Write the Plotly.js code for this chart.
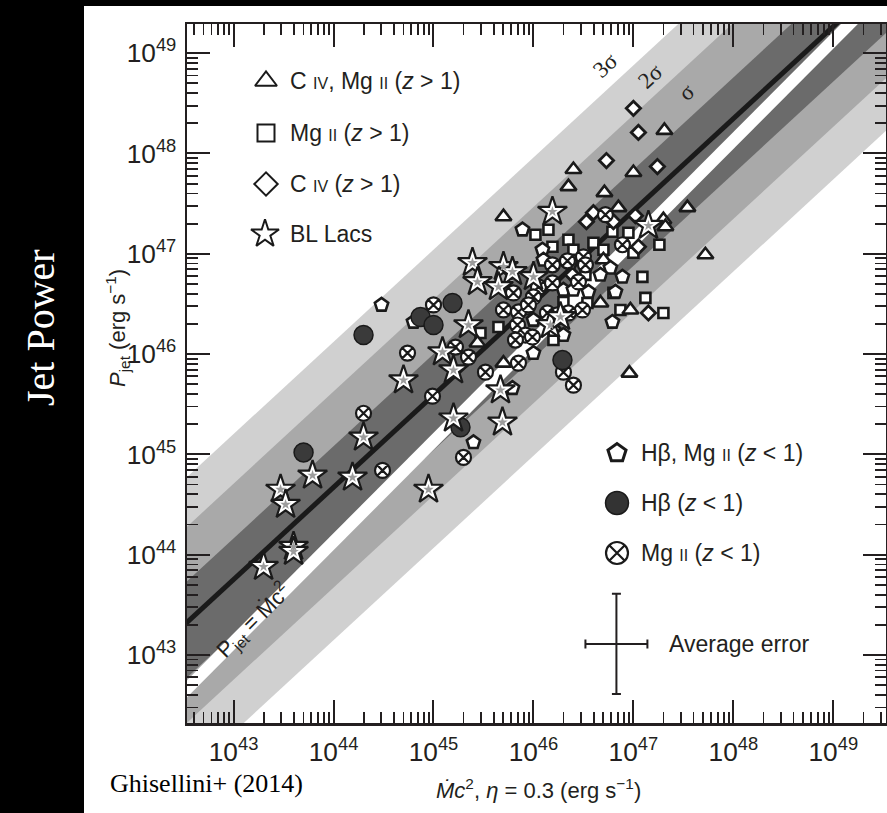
<!DOCTYPE html>
<html>
<head>
<meta charset="utf-8">
<script src="https://cdn.plot.ly/plotly-3.0.1.min.js"></script>
<style>
  html, body { margin: 0; padding: 0; background: #000; }
  #chart { width: 887px; height: 813px; }
</style>
</head>
<body>
<div id="chart"></div>
<script>
// ---- data: log10 of Mdot c^2 (x) and of P_jet (y), both in erg s^-1 ----

// C IV, Mg II (z > 1)
const triLogX = [47.31, 47.00, 46.71, 47.54, 47.72, 47.30, 47.32, 46.40, 46.35, 45.70, 46.85, 46.96, 46.97, 46.70, 45.70, 46.67, 45.44];
const triLogY = [48.23, 47.81, 47.61, 47.46, 46.99, 47.34, 47.27, 47.84, 47.67, 47.37, 47.46, 45.81, 46.44, 46.94, 45.91, 46.51, 46.11];

// Mg II (z > 1)
const sqLogX = [46.60, 47.26, 47.00, 47.09, 47.12, 47.30, 46.02, 46.15, 46.35, 46.79, 46.95, 46.19, 46.40, 46.70, 46.52, 46.30, 46.54, 46.87, 45.65, 45.47, 46.20, 46.80];
const sqLogY = [47.11, 47.09, 47.01, 46.77, 46.56, 46.41, 47.19, 47.24, 47.14, 47.22, 47.21, 47.07, 47.04, 47.04, 46.79, 46.52, 46.51, 46.44, 46.27, 46.21, 46.14, 46.61];

// C IV (z > 1)
const diaLogX = [47.00, 47.05, 46.73, 47.24, 46.60, 47.02, 46.80, 47.05, 46.39, 47.15, 46.53];
const diaLogY = [48.45, 48.21, 47.93, 47.87, 47.41, 47.38, 47.32, 47.07, 46.79, 46.41, 47.32];

// H-beta, Mg II (z < 1)
const pentLogX = [45.89, 46.09, 46.10, 46.37, 46.77, 46.89, 46.30, 46.40, 46.55, 46.82, 46.79, 46.00, 46.20, 46.30, 46.00, 45.79, 44.48, 44.80, 45.40, 46.67];
const pentLogY = [47.24, 47.04, 46.94, 46.91, 46.86, 46.77, 46.64, 46.64, 46.62, 46.62, 46.32, 46.34, 46.24, 46.19, 46.01, 45.66, 46.49, 46.32, 45.12, 46.79];

// Mg II (z < 1)
const cxLogX = [46.72, 46.89, 46.50, 46.19, 46.52, 46.05, 46.19, 46.45, 45.80, 46.00, 45.94, 46.49, 46.35, 45.70, 45.85, 46.14, 45.84, 45.92, 45.82, 45.99, 45.00, 44.74, 45.22, 45.35, 45.52, 45.85, 46.30, 46.40, 44.99, 44.30, 44.49, 45.30, 46.24, 45.95, 46.34];
const cxLogY = [47.39, 47.09, 46.97, 46.89, 46.89, 46.67, 46.71, 46.72, 46.61, 46.57, 46.47, 46.44, 46.41, 46.44, 46.42, 46.41, 46.29, 46.19, 46.14, 46.17, 46.49, 46.01, 46.07, 45.97, 45.82, 45.91, 45.82, 45.69, 45.58, 45.41, 44.84, 44.97, 46.39, 46.49, 46.93];

// H-beta (z < 1)
const dotLogX = [44.30, 44.87, 45.00, 45.19, 43.70, 45.27, 46.29];
const dotLogY = [46.19, 46.37, 46.29, 46.51, 45.02, 45.27, 45.94];

// BL Lacs
const blLogX = [46.19, 47.15, 45.39, 45.70, 45.79, 46.00, 45.44, 45.65, 46.17, 46.27, 45.35, 45.09, 45.20, 45.67, 44.70, 45.69, 45.20, 44.30, 43.79, 44.19, 43.47, 43.52, 44.95, 43.60, 43.60, 43.30];
const blLogY = [47.42, 47.28, 46.91, 46.87, 46.82, 46.77, 46.72, 46.67, 46.29, 46.37, 46.29, 46.02, 45.84, 45.64, 45.74, 45.32, 45.36, 45.17, 44.79, 44.77, 44.65, 44.50, 44.65, 44.08, 44.03, 43.88];

// best fit: log P = fitAt46 + fitSlope * (log Mc2 - 46)
const fitSlope = 0.919;
const fitAt46 = 46.51;
// sigma stripes (dex above / below the fit): 1, 2, 3 sigma
const bandUpper = [0.41, 0.955, 1.45];
const bandLower = [0.55, 1.00, 1.525];
// P_jet = Mdot c^2 stripe (dex offset)
const equalityOffset = 0.13;

// average error bar (log10 centre, half widths in dex)
const avgErrLog = [46.83, 43.11];
const avgErrDex = [0.31, 0.50];

// ---- helpers ----
const pow10 = a => a.map(v => Math.pow(10, v));
const fitLog = lx => fitAt46 + fitSlope * (lx - 46);
const lineSpan = [41, 51];

const SANS = 'Liberation Sans, Arial, Helvetica, sans-serif';
const SERIF = 'Liberation Serif, Times New Roman, serif';
const INK = '#231f20';

// plot area in page pixels
const L = 187, T = 24, W = 699, H = 699;
const px = v => (v - L) / W;
const py = v => (T + H - v) / H;

const traces = [];

// sigma stripes (1, 2, 3 sigma), widest drawn first
const bandColors = ['#6b6b6b', '#a9a9a9', '#d0d0d0'];
for (let k = 2; k >= 0; k--) {
  const xs = lineSpan;
  const up = xs.map(v => fitLog(v) + bandUpper[k]);
  const lo = xs.map(v => fitLog(v) - bandLower[k]);
  traces.push({
    type: 'scatter', mode: 'lines', fill: 'toself',
    x: pow10([xs[0], xs[1], xs[1], xs[0], xs[0]]),
    y: pow10([up[0], up[1], lo[1], lo[0], up[0]]),
    fillcolor: bandColors[k], line: { width: 0 }, hoverinfo: 'skip'
  });
}

// equality stripe
traces.push({
  type: 'scatter', mode: 'lines',
  x: pow10(lineSpan), y: pow10(lineSpan.map(v => v + equalityOffset)),
  line: { color: '#ffffff', width: 12 }
});

// best-fit line
traces.push({
  type: 'scatter', mode: 'lines',
  x: pow10(lineSpan), y: pow10(lineSpan.map(fitLog)),
  line: { color: '#1a1a1a', width: 5 }
});

const outline = w => ({ color: '#1a1a1a', width: w });

traces.push({ type: 'scatter', mode: 'markers', x: pow10(sqLogX), y: pow10(sqLogY),
  marker: { symbol: 'square', size: 10, color: '#ffffff', line: outline(2.6) } });
traces.push({ type: 'scatter', mode: 'markers', x: pow10(triLogX), y: pow10(triLogY),
  marker: { symbol: 'triangle-up', size: 14, color: '#ffffff', line: outline(2.6) } });
traces.push({ type: 'scatter', mode: 'markers', x: pow10(diaLogX), y: pow10(diaLogY),
  marker: { symbol: 'diamond', size: 11, color: '#ffffff', line: outline(2.8) } });
traces.push({ type: 'scatter', mode: 'markers', x: pow10(pentLogX), y: pow10(pentLogY),
  marker: { symbol: 'pentagon', size: 14, color: '#ffffff', line: outline(2.6) } });
traces.push({ type: 'scatter', mode: 'markers', x: pow10(cxLogX), y: pow10(cxLogY),
  marker: { symbol: 'circle-x', size: 15, color: '#ffffff', line: outline(2.2) } });
traces.push({ type: 'scatter', mode: 'markers', x: pow10(dotLogX), y: pow10(dotLogY),
  marker: { symbol: 'circle', size: 19, color: '#3a3a3a', line: outline(1.5) } });
traces.push({ type: 'scatter', mode: 'markers', x: pow10(blLogX), y: pow10(blLogY),
  marker: { symbol: 'star', size: 22, color: '#ffffff', line: outline(2.2) } });
traces.push({ type: 'scatter', mode: 'markers', x: pow10(blLogX), y: pow10(blLogY),
  marker: { symbol: 'star', size: 8, color: '#9c9c9c', line: { width: 0 } } });

// average error cross
const ex = Math.pow(10, avgErrLog[0]), ey = Math.pow(10, avgErrLog[1]);
traces.push({
  type: 'scatter', mode: 'markers', x: [ex], y: [ey],
  marker: { size: 1, color: 'rgba(0,0,0,0)' },
  error_x: { type: 'data', symmetric: false,
    array: [ex * (Math.pow(10, avgErrDex[0]) - 1)], arrayminus: [ex * (1 - Math.pow(10, -avgErrDex[0]))],
    color: INK, thickness: 2, width: 4.5 },
  error_y: { type: 'data', symmetric: false,
    array: [ey * (Math.pow(10, avgErrDex[1]) - 1)], arrayminus: [ey * (1 - Math.pow(10, -avgErrDex[1]))],
    color: INK, thickness: 2, width: 4.5 }
});

// key symbols, drawn on an overlay of the plot area (0..1 both ways)
const keyItems = [
  { sym: 'triangle-up', size: 19, fill: '#ffffff', lw: 2, x: 266, y: 81 },
  { sym: 'square', size: 17, fill: '#ffffff', lw: 2, x: 266, y: 133 },
  { sym: 'diamond', size: 18, fill: '#ffffff', lw: 2, x: 266, y: 184 },
  { sym: 'star', size: 21, fill: '#ffffff', lw: 2, x: 265, y: 234 },
  { sym: 'pentagon', size: 19, fill: '#ffffff', lw: 3, x: 617, y: 453 },
  { sym: 'circle', size: 23, fill: '#333333', lw: 1.5, x: 617, y: 503 },
  { sym: 'circle-x', size: 22, fill: '#ffffff', lw: 2.2, x: 617, y: 553 }
];
keyItems.forEach(k => traces.push({
  type: 'scatter', mode: 'markers', xaxis: 'x2', yaxis: 'y2', cliponaxis: false,
  x: [px(k.x)], y: [py(k.y)],
  marker: { symbol: k.sym, size: k.size, color: k.fill, line: { color: '#1a1a1a', width: k.lw } }
}));

const sc = t => '<span style="font-size:16px">' + t + '</span>';
const keyText = [
  { t: 'C ' + sc('IV') + ', Mg ' + sc('II') + ' (<i>z</i> > 1)', x: 288, y: 81 },
  { t: 'Mg ' + sc('II') + ' (<i>z</i> > 1)', x: 288, y: 133 },
  { t: 'C ' + sc('IV') + ' (<i>z</i> > 1)', x: 288, y: 184 },
  { t: 'BL Lacs', x: 288, y: 234 },
  { t: 'Hβ, Mg ' + sc('II') + ' (<i>z</i> < 1)', x: 639, y: 453 },
  { t: 'Hβ (<i>z</i> < 1)', x: 639, y: 503 },
  { t: 'Mg ' + sc('II') + ' (<i>z</i> < 1)', x: 639, y: 553 },
  { t: 'Average error', x: 667, y: 644 }
];

const annotations = keyText.map(k => ({
  xref: 'paper', yref: 'paper', x: px(k.x), y: py(k.y), xanchor: 'left', yanchor: 'middle',
  text: k.t, showarrow: false, font: { family: SANS, size: 23, color: INK }
}));

const label = (text, x, y, angle, font) => ({
  xref: 'paper', yref: 'paper', x: px(x), y: py(y), xanchor: 'center', yanchor: 'middle',
  text: text, textangle: angle, showarrow: false, font: font
});

annotations.push(
  label('3σ', 605, 65, -43, { family: SERIF, size: 23, color: INK }),
  label('2σ', 650, 76, -43, { family: SERIF, size: 23, color: INK }),
  label('σ', 686, 92, -43, { family: SERIF, size: 23, color: INK }),
  label('P<sub>jet</sub> = Ṁc<sup>2</sup>', 253, 620, -45, { family: SANS, size: 22, color: INK }),
  label('<i>P</i><sub>jet</sub> (erg s<sup>−1</sup>)', 117, 328, -90, { family: SANS, size: 22, color: INK }),
  label('<i>Ṁc</i><sup>2</sup>, <i>η</i> = 0.3 (erg s<sup>−1</sup>)', 538, 789, 0, { family: SANS, size: 22, color: INK }),
  label('Jet Power', 40, 328, -90, { family: SERIF, size: 40, color: '#ffffff' }),
  Object.assign(label('Ghisellini+ (2014)', 108, 783, 0, { family: SERIF, size: 26, color: '#000000' }), { xanchor: 'left' })
);

const axisCommon = {
  type: 'log', dtick: 1, showgrid: false, zeroline: false,
  showline: true, linewidth: 2.5, linecolor: INK, mirror: 'ticks',
  ticks: 'inside', ticklen: 23, tickwidth: 2, tickcolor: INK,
  exponentformat: 'power', tickfont: { family: SANS, size: 21, color: INK },
  minor: { ticks: 'inside', ticklen: 11, tickwidth: 1.8, tickcolor: INK, dtick: 'D1', showgrid: false }
};

const layout = {
  width: 887, height: 813, autosize: false,
  margin: { l: L, r: 887 - L - W, t: T, b: 813 - T - H, pad: 0 },
  paper_bgcolor: '#000000', plot_bgcolor: '#ffffff',
  showlegend: false, hovermode: false,
  xaxis: Object.assign({}, axisCommon, { range: [42.534, 49.527], ticklabelstandoff: 5 }),
  yaxis: Object.assign({}, axisCommon, { range: [42.322, 49.291], ticklabelstandoff: 4 }),
  xaxis2: { overlaying: 'x', range: [0, 1], visible: false, fixedrange: true },
  yaxis2: { overlaying: 'y', range: [0, 1], visible: false, fixedrange: true },
  shapes: [{
    type: 'rect', xref: 'paper', yref: 'paper', layer: 'below',
    x0: px(84), x1: px(890), y0: py(816), y1: py(6),
    fillcolor: '#ffffff', line: { width: 0 }
  }],
  annotations: annotations
};

Plotly.newPlot('chart', traces, layout, { staticPlot: true, displayModeBar: false });
</script>
</body>
</html>
